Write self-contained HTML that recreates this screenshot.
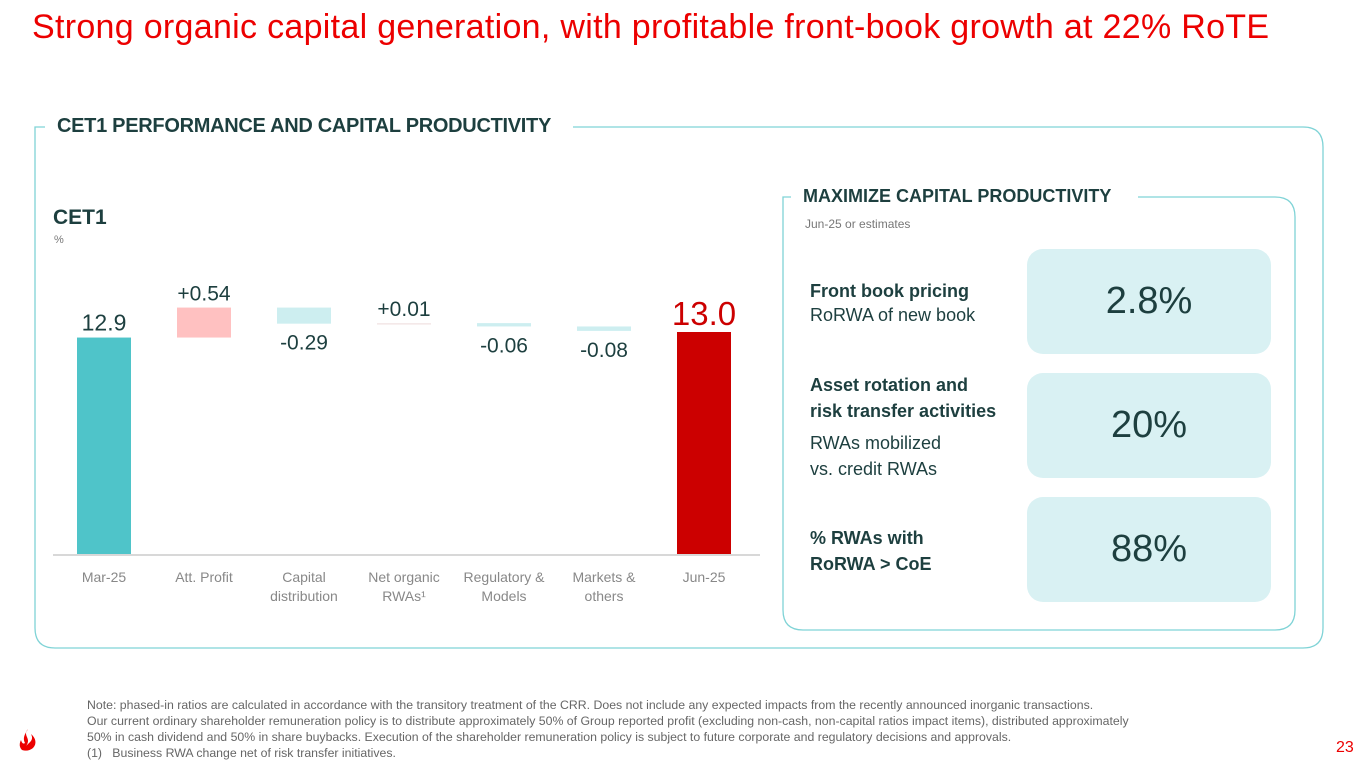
<!DOCTYPE html>
<html><head><meta charset="utf-8">
<style>
body{margin:0;width:1365px;height:768px;overflow:hidden;background:#fff;font-family:"Liberation Sans",sans-serif;position:relative;}
.a{position:absolute;white-space:nowrap;}
.dk{color:#1d3f3f;}
</style></head><body>
<div class="a" style="left:32px;top:8px;font-size:34px;color:#ec0000;letter-spacing:0.3px;">Strong organic capital generation, with profitable front-book growth at 22% RoTE</div>

<svg class="a" style="left:0;top:0" width="1365" height="768">
  <path d="M45,127 H35 V628 Q35,648 55,648 H1303 Q1323,648 1323,628 V147 Q1323,127 1303,127 H573" fill="none" stroke="#7fd3d6" stroke-width="1.3"/>
  <path d="M791,197 H783 V610 Q783,630 803,630 H1275 Q1295,630 1295,610 V217 Q1295,197 1275,197 H1138" fill="none" stroke="#7fd3d6" stroke-width="1.3"/>
  <rect x="1027" y="249" width="244" height="105" rx="16" fill="#d9f1f3"/>
  <rect x="1027" y="373" width="244" height="105" rx="16" fill="#d9f1f3"/>
  <rect x="1027" y="497" width="244" height="105" rx="16" fill="#d9f1f3"/>
</svg>

<div class="a dk" style="left:57px;top:115px;font-size:20px;font-weight:bold;letter-spacing:-0.3px;">CET1 PERFORMANCE AND CAPITAL PRODUCTIVITY</div>
<div class="a dk" style="left:53px;top:206px;font-size:21px;font-weight:bold;">CET1</div>
<div class="a" style="left:54px;top:234px;font-size:11px;color:#777;">%</div>

<svg id="chart" class="a" style="left:0;top:0" width="780" height="620"></svg>

<div class="a dk" style="left:803px;top:186px;font-size:18px;font-weight:bold;">MAXIMIZE CAPITAL PRODUCTIVITY</div>
<div class="a" style="left:805px;top:217px;font-size:12px;color:#777;">Jun-25 or estimates</div>

<div class="a dk" style="left:810px;top:279px;font-size:18px;line-height:24px;"><b>Front book pricing</b><br>RoRWA of new book</div>
<div class="a dk" style="left:810px;top:372px;font-size:18px;line-height:26px;"><b>Asset rotation and<br>risk transfer activities</b></div>
<div class="a dk" style="left:810px;top:430px;font-size:18px;line-height:26px;">RWAs mobilized<br>vs. credit RWAs</div>
<div class="a dk" style="left:810px;top:525px;font-size:18px;line-height:26px;"><b>% RWAs with<br>RoRWA &gt; CoE</b></div>

<div class="a dk" style="left:1027px;width:244px;text-align:center;top:280px;font-size:38px;">2.8%</div>
<div class="a dk" style="left:1027px;width:244px;text-align:center;top:404px;font-size:38px;">20%</div>
<div class="a dk" style="left:1027px;width:244px;text-align:center;top:528px;font-size:38px;">88%</div>

<div class="a" style="left:87px;top:697px;font-size:12.3px;line-height:16px;color:#666;">Note: phased-in ratios are calculated in accordance with the transitory treatment of the CRR. Does not include any expected impacts from the recently announced inorganic transactions.<br>Our current ordinary shareholder remuneration policy is to distribute approximately 50% of Group reported profit (excluding non-cash, non-capital ratios impact items), distributed approximately<br>50% in cash dividend and 50% in share buybacks. Execution of the shareholder remuneration policy is subject to future corporate and regulatory decisions and approvals.<br>(1)&nbsp;&nbsp;&nbsp;Business RWA change net of risk transfer initiatives.</div>
<svg class="a" style="left:18px;top:728px" width="20" height="26">
  <path d="M10,1 C4,8 14,10 8,18 C12,14 16,12 13,6 C18,10 19,16 15,20 Q10,24 4,22 Q0,18 3,12 C4,16 6,16 7,15 C4,9 8,5 10,1Z" fill="#ec0000"/>
</svg>
<div class="a" style="left:1336px;top:739px;font-size:16px;color:#ec0000;">23</div>

<script>
const categories=["Mar-25","Att. Profit","Capital|distribution","Net organic|RWAs¹","Regulatory &|Models","Markets &|others","Jun-25"];
const deltas=[12.9,0.54,-0.29,0.01,-0.06,-0.08,13.0];
const valueLabels=["12.9","+0.54","-0.29","+0.01","-0.06","-0.08","13.0"];
const types=["total","delta","delta","delta","delta","delta","total"];

const svg=document.getElementById('chart');
const NS="http://www.w3.org/2000/svg";
const base=9.0, scale=55.5, y0=554;
const y=v=>y0-(v-base)*scale;
const x=i=>77+i*100;
const bw=54;
function mk(t,a){const e=document.createElementNS(NS,t);for(const k in a)e.setAttribute(k,a[k]);svg.appendChild(e);return e;}
const ax=mk('line',{x1:53,x2:760,y1:y0+1,y2:y0+1,stroke:'#d8d8d8','stroke-width':2});


let run=0;
categories.forEach((c,i)=>{
  let top,bot,fill,labY,lcol='#1d3f3f',fs=21;
  if(types[i]==='total'){
    run=deltas[i];top=y(run);bot=y0;
    fill=i===0?'#4fc4c9':'#cc0000';
    labY=top-7;
    if(i===0)fs=23;
    if(i>0){lcol='#cc0000';fs=33;}
  }else{
    const s=run;run+=deltas[i];
    top=y(Math.max(s,run));bot=y(Math.min(s,run));
    fill=deltas[i]>0?'#ffc1c1':'#cdeef0';
    if(Math.abs(deltas[i])<0.02)fill='#f3e6e6';
    labY=deltas[i]>0?top-7:bot+26;
  }
  const h=Math.max(bot-top,1.5);
  const r=mk('rect',{x:x(i),y:top,width:bw,height:h,fill:fill});
  
  
  const t=mk('text',{x:x(i)+bw/2,y:labY,'text-anchor':'middle','font-size':fs,fill:lcol,'font-family':'Liberation Sans, sans-serif'});
  t.textContent=valueLabels[i];
  
  
  c.split('|').forEach((ln,k)=>{
    const tl=mk('text',{x:x(i)+bw/2,y:582+k*19,'text-anchor':'middle','font-size':14,fill:'#888','font-family':'Liberation Sans, sans-serif'});
    tl.textContent=ln;
    
    
  });
});
</script>
</body></html>
